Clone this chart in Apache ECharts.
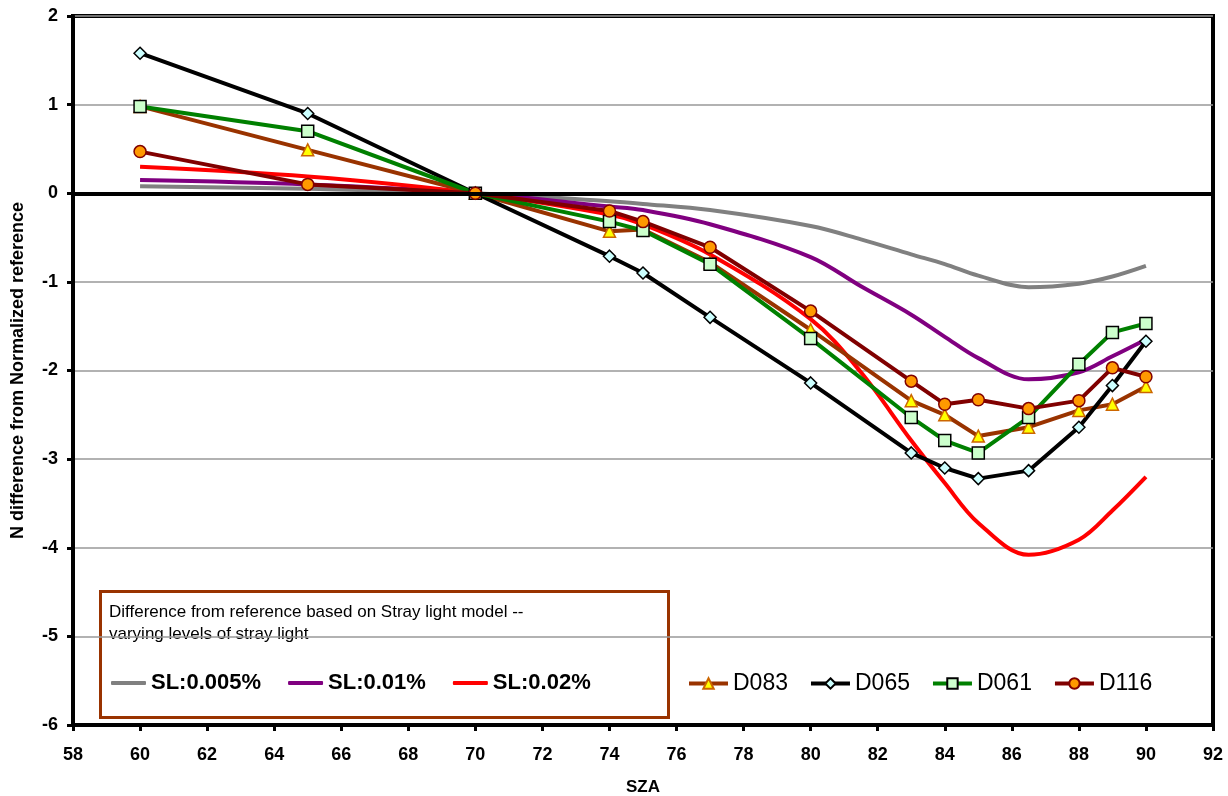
<!DOCTYPE html>
<html>
<head>
<meta charset="utf-8">
<title>SZA stray light</title>
<script src="https://cdn.jsdelivr.net/npm/echarts@6/dist/echarts.min.js"></script>
<style>
  html, body { margin: 0; padding: 0; background: #fff; }
  #chart { width: 1228px; height: 796px; }
</style>
</head>
<body>
<div id="chart"></div>
<script>
// SZA grid for the model curves and the measured (D) series
var szaModel = [60, 65, 70, 74, 75, 77, 80, 81.5, 83, 84, 85, 86.5, 88, 89, 90];
var szaMeas = [60, 65, 70, 74, 75, 77, 80, 83, 84, 85, 86.5, 88, 89, 90];

/* stray light model */
var sl005 = [0.08, 0.05, 0, -0.09, -0.12, -0.19, -0.37, -0.52, -0.69, -0.80, -0.93, -1.06, -1.02, -0.94, -0.82];
var sl01 = [0.15, 0.10, 0, -0.15, -0.19, -0.35, -0.72, -1.05, -1.37, -1.62, -1.86, -2.10, -2.02, -1.84, -1.65];
var sl02 = [0.30, 0.19, 0, -0.24, -0.35, -0.69, -1.42, -2.02, -2.79, -3.27, -3.72, -4.08, -3.91, -3.58, -3.20];

/* measured */
var d083 = [0.98, 0.49, 0, -0.43, -0.41, -0.78, -1.54, -2.34, -2.50, -2.74, -2.64, -2.45, -2.38, -2.18];
var d065 = [1.58, 0.90, 0, -0.71, -0.90, -1.40, -2.14, -2.93, -3.10, -3.22, -3.13, -2.64, -2.17, -1.67];
var d061 = [0.98, 0.70, 0, -0.32, -0.42, -0.80, -1.64, -2.53, -2.79, -2.93, -2.53, -1.93, -1.57, -1.47];
var d116 = [0.47, 0.10, 0, -0.20, -0.32, -0.61, -1.33, -2.12, -2.38, -2.33, -2.43, -2.34, -1.97, -2.07];

var xTicks = { min: 58, max: 92, interval: 2 };
var yTicks = { min: -6, max: 2, interval: 1 };

var fontFam = "'Liberation Sans', Arial, sans-serif";
var narrowFam = "'Liberation Sans Narrow', 'Arial Narrow', 'Liberation Sans', sans-serif";

function pairs(xs, ys) {
  return ys.map(function (v, i) { return [xs[i], v]; });
}

function modelLine(name, color, ys) {
  return {
    name: name,
    type: 'line',
    smooth: 0.35,
    symbol: 'none',
    lineStyle: { color: color, width: 4 },
    itemStyle: { color: color },
    data: pairs(szaModel, ys)
  };
}

function measLine(name, color, symbol, size, fill, border, ys) {
  return {
    name: name,
    type: 'line',
    symbol: symbol,
    symbolSize: size,
    showAllSymbol: true,
    lineStyle: { color: color, width: 4 },
    itemStyle: { color: fill, borderColor: border, borderWidth: 1.5 },
    data: pairs(szaMeas, ys)
  };
}

window.onload = function () {
  var chart = echarts.init(document.getElementById('chart'));

  var series = [
    modelLine('SL:0.005%', '#808080', sl005),
    modelLine('SL:0.01%', '#800080', sl01),
    modelLine('SL:0.02%', '#FF0000', sl02),
    measLine('D083', '#993300', 'triangle', 12, '#FFFF00', '#CC6600', d083),
    measLine('D065', '#000000', 'diamond', 12, '#CCFFFF', '#000000', d065),
    measLine('D061', '#008000', 'rect', 12, '#CCFFCC', '#000000', d061),
    measLine('D116', '#800000', 'circle', 12, '#FF9900', '#800000', d116)
  ];

  // thick zero line
  series[0].markLine = {
    silent: true,
    symbol: 'none',
    label: { show: false },
    lineStyle: { color: '#000', width: 4, type: 'solid' },
    data: [{ yAxis: 0 }]
  };

  var option = {
    backgroundColor: '#fff',
    animation: false,
    grid: {
      left: 73, right: 15, top: 16, bottom: 71,
      containLabel: false,
      outerBoundsMode: 'none',
      show: true, borderColor: '#000', borderWidth: 4
    },
    legend: [{
      data: ['SL:0.005%', 'SL:0.01%', 'SL:0.02%'],
      icon: 'roundRect',
      left: 111, top: 672, padding: 0,
      itemWidth: 35, itemHeight: 4, itemGap: 27,
      textStyle: { fontFamily: fontFam, fontSize: 22, fontWeight: 'bold', color: '#000' }
    }, {
      data: ['D083', 'D065', 'D061', 'D116'],
      left: 687, top: 672, padding: 0,
      itemWidth: 39, itemHeight: 13, itemGap: 21,
      lineStyle: { width: 4 },
      textStyle: { fontFamily: fontFam, fontSize: 23, color: '#000' }
    }],
    graphic: [{
      type: 'rect',
      left: 98, top: 589,
      shape: { width: 568, height: 126 },
      style: { fill: 'none', stroke: '#993300', lineWidth: 3 },
      silent: true
    }, {
      type: 'text',
      left: 109, top: 601,
      style: {
        text: 'Difference from reference based on Stray light model --\nvarying levels of stray light',
        font: '17px ' + fontFam,
        lineHeight: 22,
        fill: '#000'
      },
      silent: true
    }],
    xAxis: {
      type: 'value',
      min: xTicks.min, max: xTicks.max, interval: xTicks.interval,
      name: 'SZA',
      nameLocation: 'middle',
      nameGap: 54,
      nameTextStyle: { fontFamily: fontFam, fontSize: 17, fontWeight: 'bold', color: '#000' },
      axisLine: { onZero: false, lineStyle: { color: '#000', width: 4 } },
      axisTick: { show: true, length: 6, lineStyle: { color: '#000', width: 3 } },
      axisLabel: { margin: 21, fontFamily: narrowFam, fontSize: 18, fontWeight: 'bold', color: '#000' },
      splitLine: { show: false }
    },
    yAxis: {
      type: 'value',
      min: yTicks.min, max: yTicks.max, interval: yTicks.interval,
      name: 'N difference from Normalized reference',
      nameLocation: 'middle',
      nameGap: 46,
      nameTextStyle: { fontFamily: fontFam, fontSize: 18, fontWeight: 'bold', color: '#000' },
      axisLine: { lineStyle: { color: '#000', width: 4 } },
      axisTick: { show: true, length: 6, lineStyle: { color: '#000', width: 3 } },
      axisLabel: { margin: 15, fontFamily: narrowFam, fontSize: 18, fontWeight: 'bold', color: '#000' },
      splitLine: { show: true, lineStyle: { color: '#999', width: 1.5 } }
    },
    series: series
  };

  chart.setOption(option);
};
</script>
</body>
</html>
